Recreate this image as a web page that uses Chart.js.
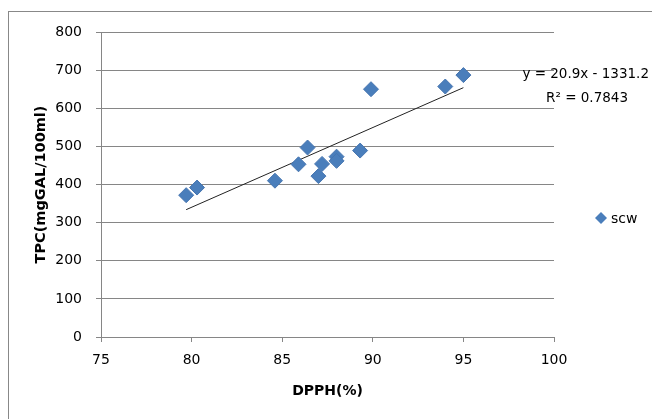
<!DOCTYPE html>
<html>
<head>
<meta charset="utf-8">
<script src="https://cdn.jsdelivr.net/npm/chart.js@4.4.0/dist/chart.umd.min.js"></script>
<style>
  html, body { margin: 0; padding: 0; background: #fff; }
  #wrap { width: 652px; height: 419px; position: relative; }
</style>
</head>
<body>
<div id="wrap"><canvas id="myChart" width="652" height="419"></canvas></div>
<script>
    'use strict';

    // values
    let dpph = [79.7, 80.3, 84.6, 85.9, 86.4, 87.0, 87.2, 88.0, 88.0, 89.3, 89.9, 94.0, 95.0]
    let tpc = [372, 392, 410, 453, 497, 422, 454, 473, 462, 489, 650, 657, 687]

    // ends of the drawn trendline
    let trendX = [79.7, 95.0]
    let trendY = [334, 654]

    let seriesName = 'scw'
    let equationText = 'y = 20.9x - 1331.2'
    let r2Text = 'R² = 0.7843'
    let xTitle = 'DPPH(%)'
    let yTitle = 'TPC(mgGAL/100ml)'

    let blue = '#4a7ebb'
    let gridGray = '#868686'
    let font = 'DejaVu Sans'

    // frame, legend and trendline label (Excel-style)
    let extras = {
        id: 'extras',
        beforeDraw(chart) {
            let ctx = chart.ctx
            ctx.save()
            ctx.strokeStyle = '#888888'
            ctx.lineWidth = 1
            ctx.strokeRect(8.5, 11.5, 700, 500)
            ctx.restore()
        },
        afterDraw(chart) {
            let ctx = chart.ctx
            ctx.save()
            // legend
            ctx.fillStyle = blue
            ctx.beginPath()
            ctx.moveTo(601, 212)
            ctx.lineTo(607, 218)
            ctx.lineTo(601, 224)
            ctx.lineTo(595, 218)
            ctx.closePath()
            ctx.fill()
            ctx.fillStyle = '#000'
            ctx.font = '14px "' + font + '"'
            ctx.textBaseline = 'middle'
            ctx.fillText(seriesName, 611, 219)
            // equation
            ctx.textAlign = 'right'
            ctx.font = '13.5px "' + font + '"'
            ctx.fillText(equationText, 649, 74)
            ctx.fillText(r2Text, 628, 98)
            ctx.restore()
        }
    }

    let ctx = document.getElementById('myChart').getContext('2d')
    let chart = new Chart(ctx, {
        type: 'scatter',
        data: {
            datasets: [{
                label: seriesName,
                data: dpph.map((x, i) => ({ x: x, y: tpc[i] })),
                pointStyle: 'rectRot',
                pointRadius: 7.5,
                pointHoverRadius: 7.5,
                backgroundColor: blue,
                borderColor: '#4675b0',
                borderWidth: 1,
                order: 1
            }, {
                label: 'trend',
                type: 'line',
                data: trendX.map((x, i) => ({ x: x, y: trendY[i] })),
                borderColor: '#222222',
                borderWidth: 1,
                pointRadius: 0,
                fill: false,
                order: 2
            }]
        },
        options: {
            responsive: false,
            animation: false,
            events: [],
            layout: { padding: { left: 10, top: 32, right: 98, bottom: 10 } },
            plugins: {
                legend: { display: false },
                tooltip: { enabled: false }
            },
            scales: {
                x: {
                    type: 'linear',
                    min: 75,
                    max: 100,
                    ticks: { stepSize: 5, color: '#000', padding: 10, font: { family: font, size: 14 } },
                    grid: { drawOnChartArea: false, drawTicks: true, tickLength: 5, color: gridGray },
                    border: { color: gridGray },
                    title: { display: true, text: xTitle, color: '#000', padding: { top: 0, bottom: 9 },
                        font: { family: font, size: 14, weight: 'bold' } },
                    afterFit(scale) { scale.height = 72 }
                },
                y: {
                    min: 0,
                    max: 800,
                    ticks: { stepSize: 100, color: '#000', padding: 14, font: { family: font, size: 14 } },
                    grid: { color: gridGray, tickLength: 5 },
                    border: { color: gridGray },
                    title: { display: true, text: yTitle, color: '#000', padding: { top: 23, bottom: 0 },
                        font: { family: font, size: 14.5, weight: 'bold' } },
                    afterFit(scale) { scale.width = 91 }
                }
            }
        },
        plugins: [extras]
    })
</script>
</body>
</html>
